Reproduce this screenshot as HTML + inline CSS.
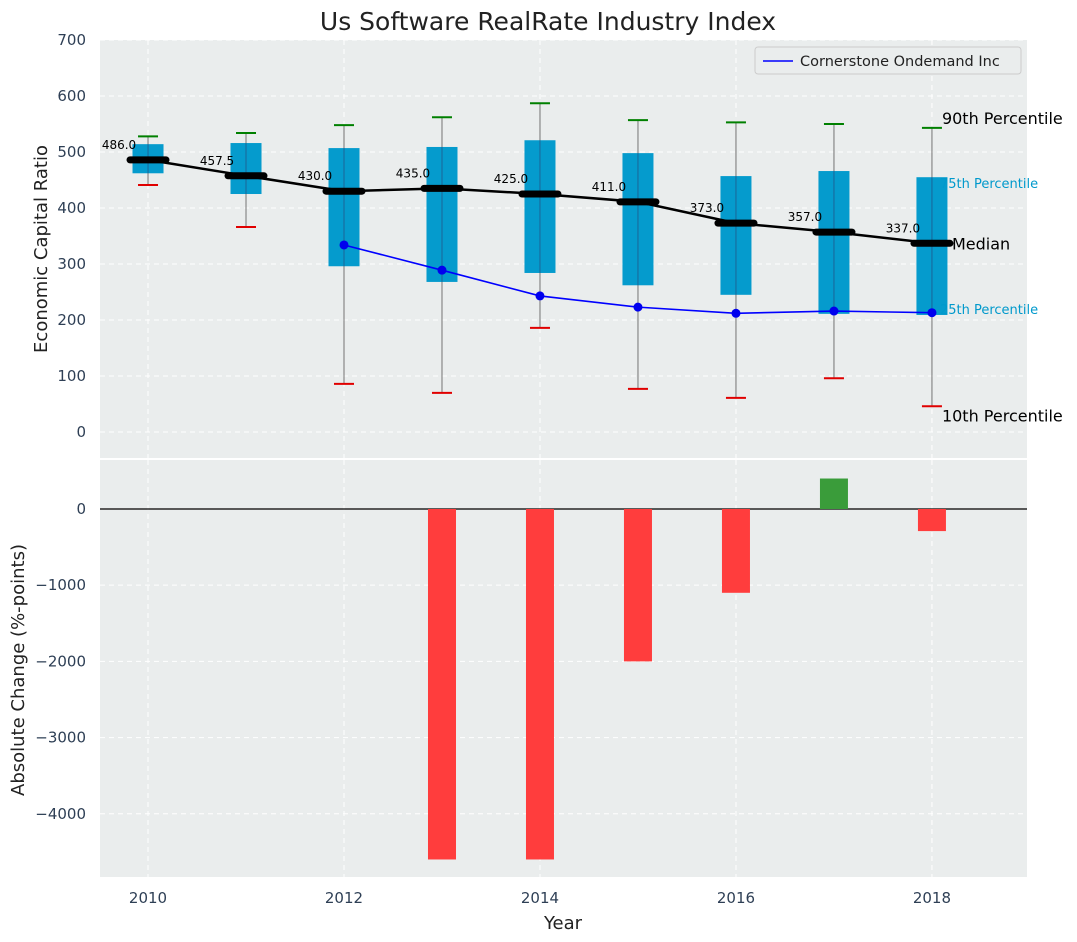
<!DOCTYPE html>
<html><head><meta charset="utf-8">
<style>
body{margin:0;background:#fff;}
svg{display:block;font-family:"DejaVu Sans","Liberation Sans",sans-serif;}
</style></head>
<body>
<svg id="chart" width="1077" height="942" xmlns="http://www.w3.org/2000/svg"></svg>
<script>
const years = [2010,2011,2012,2013,2014,2015,2016,2017,2018];
const p90 = [528,534,548,562,587,557,553,550,543];
const p75 = [514,516,507,509,521,498,457,466,455];
const median = [486.0,457.5,430.0,435.0,425.0,411.0,373.0,357.0,337.0];
const p25 = [462,425,296,268,284,262,245,211,209];
const p10 = [441,366,86,70,186,77,61,96,46];
const companyYears = [2012,2013,2014,2015,2016,2017,2018];
const companyValues = [334,289,243,223,212,216,213];
const changeYears = [2013,2014,2015,2016,2017,2018];
const changeValues = [-4600,-4600,-2000,-1100,400,-290];
const topTicks = [0,100,200,300,400,500,600,700];
const bottomTicks = [0,-1000,-2000,-3000,-4000];
const xTicks = [2010,2012,2014,2016,2018];

const NS="http://www.w3.org/2000/svg";
const svg=document.getElementById('chart');
function el(tag,attrs,parent){const e=document.createElementNS(NS,tag);for(const k in attrs)e.setAttribute(k,attrs[k]);(parent||svg).appendChild(e);return e;}
const L=100,R=1027;
const x=v=>L+(v-2009.51)/(2018.97-2009.51)*(R-L);
const T1=40,B1=458,yT=v=>B1-(v-(-46.4))/(700-(-46.4))*(B1-T1);
const T2=460,B2=877,yB=v=>B2-(v-(-4830))/(643-(-4830))*(B2-T2);
const bg='#eaeded';

let r=el('rect',{x:L,y:T1,width:R-L,height:B1-T1,fill:bg});

r=el('rect',{x:L,y:T2,width:R-L,height:B2-T2,fill:bg});


xTicks.forEach(t=>{
  el('line',{x1:x(t),x2:x(t),y1:T1,y2:B1,stroke:'#fff','stroke-dasharray':'5,4','stroke-width':1});
  el('line',{x1:x(t),x2:x(t),y1:T2,y2:B2,stroke:'#fff','stroke-dasharray':'5,4','stroke-width':1});
  const tx=el('text',{x:x(t),y:903,'text-anchor':'middle','font-size':15,fill:'#2e3f55'});tx.textContent=t;
  
});
topTicks.forEach(t=>{
  el('line',{x1:L,x2:R,y1:yT(t),y2:yT(t),stroke:'#fff','stroke-dasharray':'5,4'});
  const tx=el('text',{x:86,y:yT(t)+5,'text-anchor':'end','font-size':15,fill:'#2e3f55'});tx.textContent=t;
  
});
bottomTicks.forEach(t=>{
  el('line',{x1:L,x2:R,y1:yB(t),y2:yB(t),stroke:'#fff','stroke-dasharray':'5,4'});
  const tx=el('text',{x:86,y:yB(t)+5,'text-anchor':'end','font-size':15,fill:'#2e3f55'});tx.textContent=t===0?'0':'\u2212'+(-t);
  
});

const last=years.length-1, ax=x(years[last])+10;
[['90th Percentile',p90[last],16,'#000',-4,ax],['75th Percentile',p75[last],13,'#0099cc',11,ax-2],['Median',median[last],16,'#000',6,ax+10],['25th Percentile',p25[last],13,'#0099cc',-1,ax-2],['10th Percentile',p10[last],16,'#000',15,ax]].forEach(a=>{
  const t=el('text',{x:a[5],y:yT(a[1])+a[4],'font-size':a[2],fill:a[3]});t.textContent=a[0];
  
});

years.forEach((yr,i)=>{
  const cx=x(yr);
  el('line',{x1:cx,x2:cx,y1:yT(p90[i]),y2:yT(p10[i]),stroke:'#888','stroke-width':1.2});
  const b=el('rect',{x:cx-15.5,y:yT(p75[i]),width:31,height:yT(p25[i])-yT(p75[i]),fill:'#0099cc',opacity:0.98});
  
  el('line',{x1:cx,x2:cx,y1:yT(p75[i]),y2:yT(p25[i]),stroke:'#336','stroke-width':1,opacity:0.5});
  const g=el('line',{x1:cx-10,x2:cx+10,y1:yT(p90[i]),y2:yT(p90[i]),stroke:'#008000','stroke-width':2});
  
  const rd=el('line',{x1:cx-10,x2:cx+10,y1:yT(p10[i]),y2:yT(p10[i]),stroke:'#e00000','stroke-width':2});
  
});
const mp=years.map((yr,i)=>x(yr)+','+yT(median[i])).join(' ');
let ml=el('polyline',{points:mp,fill:'none',stroke:'#000','stroke-width':2.5});

years.forEach((yr,i)=>{
  const m=el('line',{x1:x(yr)-18,x2:x(yr)+18,y1:yT(median[i]),y2:yT(median[i]),stroke:'#000','stroke-width':7,'stroke-linecap':'round'});
  
  const t=el('text',{x:x(yr)-29,y:yT(median[i])-11,'text-anchor':'middle','font-size':12,fill:'#000'});t.textContent=median[i].toFixed(1);
  
});
const cp=companyYears.map((yr,i)=>x(yr)+','+yT(companyValues[i])).join(' ');
let cl=el('polyline',{points:cp,fill:'none',stroke:'#0000ff','stroke-width':1.6});

companyYears.forEach((yr,i)=>{
  const c=el('circle',{cx:x(yr),cy:yT(companyValues[i]),r:4.5,fill:'#0000ee'});
  
});

el('line',{x1:L,x2:R,y1:yB(0),y2:yB(0),stroke:'#000','stroke-width':1.2});
changeYears.forEach((yr,i)=>{
  const v=changeValues[i];
  const b=el('rect',{x:x(yr)-14,y:Math.min(yB(0),yB(v)),width:28,height:Math.abs(yB(v)-yB(0)),fill:v>=0?'#3a9c3a':'#ff3d3d'});
  
});

const lg=el('g',{});
el('rect',{x:755,y:47,width:266,height:27,rx:3,fill:'#eaeded',stroke:'#ccc'},lg);
el('line',{x1:763,x2:793,y1:61,y2:61,stroke:'#0000ff','stroke-width':1.6},lg);
let lt=el('text',{x:800,y:66,'font-size':14.5,fill:'#222'},lg);lt.textContent='Cornerstone Ondemand Inc';

let t=el('text',{x:548,y:30,'text-anchor':'middle','font-size':25,fill:'#222'});t.textContent='Us Software RealRate Industry Index';

t=el('text',{x:563,y:929,'text-anchor':'middle','font-size':18,fill:'#222'});t.textContent='Year';

t=el('text',{x:47,y:249,'text-anchor':'middle','font-size':18,fill:'#222',transform:'rotate(-90 47 249)'});t.textContent='Economic Capital Ratio';

t=el('text',{x:24,y:670,'text-anchor':'middle','font-size':18,fill:'#222',transform:'rotate(-90 24 670)'});t.textContent='Absolute Change (%-points)';

</script>
</body></html>
